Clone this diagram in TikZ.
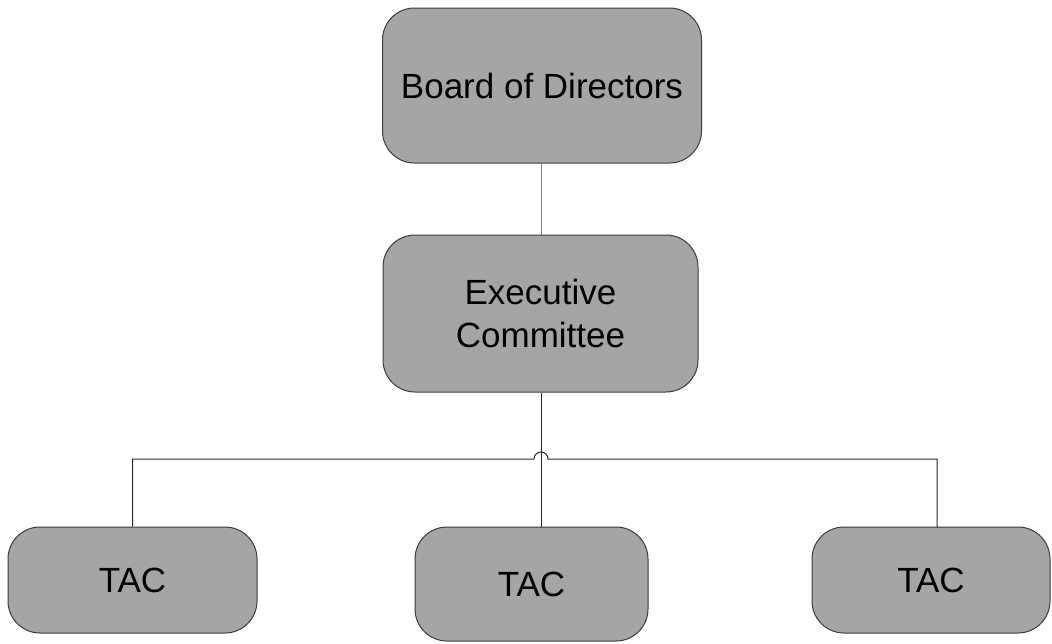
\documentclass[tikz,border=0pt]{standalone}
\usepackage{fontspec}
\setmainfont{Liberation Sans}
\definecolor{boxfill}{RGB}{165,165,165}
\definecolor{boxline}{RGB}{60,60,60}
\definecolor{conn}{RGB}{40,40,40}
\tikzset{
  orgbox/.style={draw=boxline, line width=1pt, fill=boxfill, rounded corners=32pt,
    inner sep=0pt, align=center, font=\fontsize{35}{43}\selectfont},
  link/.style={draw=conn, line width=1pt}
}
\begin{document}
\begin{tikzpicture}[x=1pt,y=-1pt]
\useasboundingbox (0,0) rectangle (1052,643);
\node[orgbox, minimum width=319pt, minimum height=155pt] (bod) at (542,85.5) {Board of Directors};
\node[orgbox, minimum width=315pt, minimum height=157pt] (ec) at (540.5,313.5) {Executive\\Committee};
\node[orgbox, minimum width=249pt, minimum height=106pt] (tl) at (132.5,580) {TAC};
\node[orgbox, minimum width=233pt, minimum height=114pt] (tm) at (531.5,584) {TAC};
\node[orgbox, minimum width=238pt, minimum height=106pt] (tr) at (931,580) {TAC};
\coordinate (j) at (541,459);
\coordinate (rtop) at (937,527);
\draw[link, draw=gray] (bod.south -| j) -- (ec.north -| j);
\draw[link] (ec.south -| j) -- (tm.north -| j);
\draw[link] (tl.north) |- ([xshift=-7pt]j) arc[start angle=180, end angle=0, radius=7pt] -| (rtop);
\end{tikzpicture}
\end{document}
